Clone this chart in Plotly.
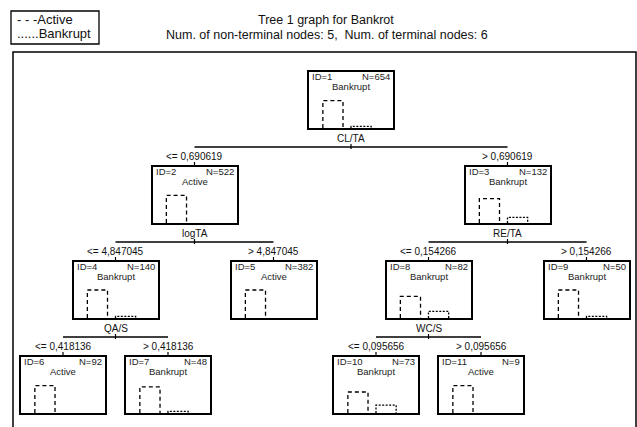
import plotly.graph_objects as go

# ---------------- data ----------------
node_ids = [1, 2, 3, 4, 5, 6, 7, 8, 9, 10, 11]
parent_ids = [None, 1, 1, 2, 2, 4, 4, 3, 3, 8, 8]
node_n = [654, 522, 132, 140, 382, 92, 48, 82, 50, 73, 9]
node_class = ["Bankrupt", "Active", "Bankrupt", "Bankrupt", "Active", "Active",
              "Bankrupt", "Bankrupt", "Bankrupt", "Bankrupt", "Active"]
class_names = ["Active", "Bankrupt"]
# relative bar heights in each node
active_bar = [0.98, 0.99, 0.87, 1.00, 1.00, 0.98, 0.93, 0.77, 1.00, 0.75, 0.98]
bankrupt_bar = [0.06, 0.00, 0.20, 0.06, 0.00, 0.00, 0.06, 0.24, 0.06, 0.28, 0.00]

split_nodes = [1, 2, 3, 4, 8]
split_vars = ["CL/TA", "logTA", "RE/TA", "QA/S", "WC/S"]
split_thresholds = ["0,690619", "4,847045", "0,154266", "0,418136", "0,095656"]

title_text = "Tree 1 graph for Bankrot"
subtitle_text = "Num. of non-terminal nodes: 5,  Num. of terminal nodes: 6"
legend_texts = ["- - -Active", "......Bankrupt"]

# ---------------- layout geometry (pixels) ----------------
W, H = 637, 427
ROOT_X, TOP0, LEVEL_STEP = 351, 72, 95
BOX_W, BOX_H = 84, 56
OFFSETS = {1: 156.5, 2: 79, 3: 52.5}
FONT = "Liberation Sans, Arial, sans-serif"
BAR_X = [(0.165, 0.405), (0.50, 0.74)]
BAR_DASH = ["4px,3px", "2px,1.5px"]

# compute tree layout
pos = {}
depth = {}
children = {nid: [] for nid in node_ids}
for nid, pid in zip(node_ids, parent_ids):
    if pid is not None:
        children[pid].append(nid)
for nid, pid in zip(node_ids, parent_ids):
    if pid is None:
        depth[nid] = 0
        pos[nid] = ROOT_X
for nid, pid in zip(node_ids, parent_ids):
    if pid is not None:
        depth[nid] = depth[pid] + 1
        sign = -1 if children[pid].index(nid) == 0 else 1
        pos[nid] = pos[pid] + sign * OFFSETS[depth[nid]]


def top_of(nid):
    return TOP0 + depth[nid] * LEVEL_STEP


fig = go.Figure()
layout = dict(
    width=W, height=H, autosize=False,
    margin=dict(l=0, r=0, t=0, b=0, pad=0),
    paper_bgcolor="white", plot_bgcolor="rgba(0,0,0,0)",
    showlegend=False,
    xaxis=dict(range=[0, W], visible=False, domain=[0, 1], fixedrange=True),
    yaxis=dict(range=[H, 0], visible=False, domain=[0, 1], fixedrange=True),
)

annotations = []
shapes = []

def txt(x, y, s, size, xanchor="center", color="#111"):
    annotations.append(dict(x=x, y=y, xref="x", yref="y", text=s, showarrow=False,
                            xanchor=xanchor, yanchor="middle",
                            font=dict(family=FONT, size=size, color=color)))

def line(x0, y0, x1, y1, w=1.5):
    shapes.append(dict(type="line", xref="x", yref="y", x0=x0, y0=y0, x1=x1, y1=y1,
                       line=dict(color="black", width=w)))

# nodes
for i, nid in enumerate(node_ids):
    k = i + 2
    cx = pos[nid]
    top = top_of(nid)
    ax = dict(range=[0, 1], showline=True, mirror=True, linecolor="black", linewidth=1.6,
              showticklabels=False, ticks="", showgrid=False, zeroline=False, fixedrange=True)
    layout[f"xaxis{k}"] = dict(ax, domain=[(cx - BOX_W / 2) / W, (cx + BOX_W / 2) / W],
                               anchor=f"y{k}")
    layout[f"yaxis{k}"] = dict(ax, range=[0, 2],
                               domain=[1 - (top + BOX_H) / H, 1 - top / H],
                               anchor=f"x{k}")
    for c, vals in enumerate([active_bar, bankrupt_bar]):
        v = vals[i]
        if v <= 0:
            continue
        x0, x1 = BAR_X[c]
        fig.add_trace(go.Scatter(
            x=[x0, x0, x1, x1], y=[0, v, v, 0], mode="lines",
            xaxis=f"x{k}", yaxis=f"y{k}", name=class_names[c],
            line=dict(color="black", width=1.3, dash=BAR_DASH[c]),
            hoverinfo="skip", cliponaxis=False))
    txt(cx - BOX_W / 2 + 1, top + 4.5, f"ID={nid}", 9.5, "left", "#222")
    txt(cx + BOX_W / 2 - 1, top + 4.5, f"N={node_n[i]}", 9.5, "right", "#222")
    txt(cx, top + 14.5, node_class[i], 9.5, "center", "#222")

# splits
for sn, var, thr in zip(split_nodes, split_vars, split_thresholds):
    cx = pos[sn]
    bottom = top_of(sn) + BOX_H
    ly = bottom + 19
    left, right = children[sn]
    txt(cx, bottom + 10, var, 10)
    line(pos[left], ly, pos[right], ly, 1.6)
    line(cx, ly - 3, cx, ly + 2, 1.2)
    for ch, lab in [(left, "<= " + thr), (right, "> " + thr)]:
        txt(pos[ch], ly + 9, lab, 10)
        line(pos[ch], ly + 15, pos[ch], ly + 20, 1.2)

# outer frame
shapes.append(dict(type="rect", xref="x", yref="y", x0=13, y0=52, x1=636, y1=432,
                   line=dict(color="black", width=1.5)))
# legend box
shapes.append(dict(type="rect", xref="x", yref="y", x0=11, y0=11, x1=99, y1=44,
                   line=dict(color="black", width=1.3)))
txt(15, 19.5, legend_texts[0], 13, "left")
txt(15, 33, legend_texts[1], 13, "left")

# titles
txt(326, 20, title_text, 12.5)
txt(327, 35, subtitle_text, 12.5)

layout["annotations"] = annotations
layout["shapes"] = shapes
fig.update_layout(**layout)
fig.write_html("out.html")
